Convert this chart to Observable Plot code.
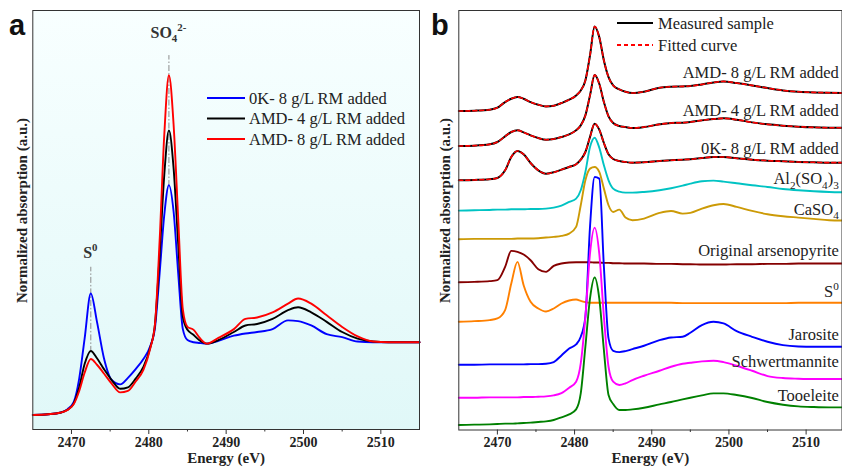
<!DOCTYPE html>
<html><head><meta charset="utf-8">
<script src="https://cdn.jsdelivr.net/npm/d3@7"></script>
<script src="https://cdn.jsdelivr.net/npm/@observablehq/plot@0.6"></script>
<style>
body{margin:0;background:#fff;}
#wrap{position:relative;width:842px;height:472px;overflow:hidden;}
#wrap svg text{font-family:'Liberation Serif','Times New Roman',serif;}
#wrap svg text.panel-letter{font-family:'Liberation Sans',Arial,sans-serif;}
#pa{position:absolute;left:0;top:0;width:430px;height:472px;}
#pb{position:absolute;left:420px;top:0;width:422px;height:472px;}
</style></head>
<body><div id="wrap"><div id="pa"></div><div id="pb"></div></div>
<script>
const SERIF = "'Liberation Serif','Times New Roman',serif";
const SANS = "'Liberation Sans',Arial,sans-serif";

// ---------- Panel a data ----------
const energyA = [2465, 2467, 2468.5, 2469.5, 2470.3, 2471, 2471.7, 2472.5, 2473.3, 2474.2, 2475.2, 2476.3, 2477.3, 2478.3, 2479.3, 2480.2, 2480.8, 2481.4, 2482, 2482.6, 2483.2, 2483.8, 2484.4, 2485, 2485.8, 2486.5, 2487.5, 2489, 2491, 2492.5, 2494, 2496, 2498, 2499.3, 2501, 2503, 2505, 2507, 2509, 2511, 2515];
const ok8A  = [0, 0.01, 0.03, 0.08, 0.18, 0.50, 1.05, 1.67, 1.28, 0.78, 0.48, 0.42, 0.51, 0.63, 0.77, 0.95, 1.20, 1.95, 2.75, 3.16, 2.80, 1.95, 1.18, 1.03, 1.00, 0.99, 0.98, 1.02, 1.09, 1.12, 1.14, 1.18, 1.30, 1.29, 1.23, 1.11, 1.07, 1.01, 1.00, 1.00, 1.00];
const amd4A = [0, 0.01, 0.03, 0.07, 0.16, 0.38, 0.70, 0.88, 0.78, 0.63, 0.48, 0.36, 0.38, 0.50, 0.66, 0.93, 1.25, 2.20, 3.30, 3.91, 3.40, 2.35, 1.35, 1.17, 1.10, 1.03, 0.98, 1.03, 1.14, 1.23, 1.25, 1.32, 1.44, 1.48, 1.41, 1.28, 1.14, 1.05, 1.01, 1.00, 1.00];
const amd8A = [0, 0.01, 0.03, 0.07, 0.15, 0.33, 0.58, 0.77, 0.69, 0.57, 0.43, 0.31, 0.33, 0.46, 0.62, 0.92, 1.25, 2.40, 3.85, 4.67, 4.00, 2.70, 1.45, 1.21, 1.17, 1.07, 0.98, 1.06, 1.18, 1.32, 1.34, 1.41, 1.53, 1.60, 1.53, 1.37, 1.21, 1.08, 1.01, 1.00, 1.00];
const seriesA = ["0K- 8 g/L RM added", "AMD- 4 g/L RM added", "AMD- 8 g/L RM added"];
const colorsA = ["#0000ff", "#000000", "#ff0000"];
const valuesA = [ok8A, amd4A, amd8A];
const peakE = [2472.5, 2482.6];
const guideLo = [0.86, 3.14];
const guideHi = [2.03, 4.94];
const peakLabelV = [2.15, 5.18];
const peakLabels = [[["S", ""], ["0", "sup"]], [["SO", ""], ["4", "sub"], ["2-", "sup"]]];

// ---------- Panel b data ----------
const energyB = [2465, 2467, 2469, 2470, 2471, 2471.8, 2472.6, 2473.4, 2474.3, 2475.3, 2476.3, 2477.3, 2478.3, 2479.3, 2480.2, 2480.8, 2481.4, 2482, 2482.6, 2483.2, 2483.8, 2484.4, 2485, 2485.8, 2486.6, 2487.5, 2489, 2491, 2492.5, 2494, 2495, 2496.5, 2498, 2499.3, 2501, 2503, 2505, 2507, 2509, 2511, 2513, 2515];
const amd8B = [9.58, 9.59, 9.62, 9.68, 9.85, 9.95, 10.00, 9.95, 9.85, 9.77, 9.72, 9.74, 9.82, 9.92, 10.05, 10.20, 10.50, 11.25, 12.12, 11.80, 11.10, 10.60, 10.35, 10.23, 10.16, 10.12, 10.16, 10.28, 10.31, 10.32, 10.33, 10.38, 10.44, 10.47, 10.42, 10.35, 10.27, 10.20, 10.16, 10.14, 10.13, 10.12];
const amd4B = [8.53, 8.54, 8.58, 8.65, 8.82, 8.95, 9.00, 8.94, 8.85, 8.77, 8.72, 8.74, 8.80, 8.88, 9.00, 9.15, 9.45, 10.05, 10.66, 10.40, 9.85, 9.42, 9.22, 9.13, 9.10, 9.07, 9.10, 9.18, 9.22, 9.23, 9.25, 9.30, 9.34, 9.36, 9.32, 9.24, 9.18, 9.14, 9.11, 9.09, 9.08, 9.08];
const ok8B  = [7.50, 7.51, 7.53, 7.57, 7.80, 8.20, 8.38, 8.28, 8.02, 7.80, 7.70, 7.74, 7.82, 7.90, 7.98, 8.12, 8.35, 8.80, 9.20, 9.02, 8.62, 8.28, 8.14, 8.08, 8.05, 8.03, 8.04, 8.08, 8.10, 8.12, 8.13, 8.17, 8.20, 8.20, 8.16, 8.12, 8.09, 8.07, 8.05, 8.04, 8.03, 8.03];
const al2B  = [6.59, 6.60, 6.61, 6.62, 6.62, 6.63, 6.63, 6.63, 6.64, 6.64, 6.65, 6.68, 6.74, 6.85, 6.95, 7.20, 7.75, 8.50, 8.78, 8.48, 7.95, 7.50, 7.25, 7.16, 7.13, 7.13, 7.15, 7.20, 7.26, 7.34, 7.40, 7.47, 7.49, 7.46, 7.41, 7.35, 7.30, 7.24, 7.20, 7.17, 7.15, 7.14];
const caso4B = [5.73, 5.74, 5.74, 5.74, 5.74, 5.74, 5.75, 5.75, 5.75, 5.76, 5.78, 5.80, 5.83, 5.90, 6.10, 6.75, 7.50, 7.85, 7.90, 7.75, 7.25, 6.75, 6.55, 6.62, 6.38, 6.30, 6.35, 6.52, 6.58, 6.50, 6.52, 6.65, 6.75, 6.79, 6.70, 6.58, 6.48, 6.42, 6.38, 6.34, 6.30, 6.29];
const arsenoB = [4.44, 4.45, 4.47, 4.50, 4.90, 5.38, 5.35, 5.27, 5.10, 4.83, 4.75, 4.93, 5.00, 5.03, 5.04, 5.04, 5.04, 5.04, 5.03, 5.03, 5.02, 5.02, 5.01, 5.01, 5.00, 5.00, 5.00, 4.99, 4.99, 4.98, 4.98, 4.97, 4.97, 4.97, 4.98, 4.98, 4.99, 4.99, 5.00, 5.00, 5.00, 5.00];
const s0B = [3.25, 3.27, 3.30, 3.35, 3.60, 4.40, 5.05, 4.35, 3.85, 3.65, 3.56, 3.65, 3.80, 3.89, 3.92, 3.88, 3.84, 3.82, 3.82, 3.82, 3.82, 3.82, 3.82, 3.82, 3.82, 3.82, 3.82, 3.82, 3.82, 3.81, 3.81, 3.81, 3.81, 3.81, 3.81, 3.81, 3.81, 3.81, 3.82, 3.82, 3.82, 3.82];
const jaroB = [1.96, 1.96, 1.97, 1.97, 1.97, 1.97, 1.97, 1.97, 1.98, 1.98, 1.99, 2.04, 2.24, 2.45, 2.57, 2.80, 3.40, 6.10, 7.60, 7.55, 4.90, 2.75, 2.38, 2.34, 2.37, 2.43, 2.53, 2.70, 2.78, 2.80, 2.92, 3.15, 3.25, 3.20, 2.97, 2.80, 2.65, 2.55, 2.51, 2.50, 2.50, 2.50];
const schwB = [0.97, 0.97, 0.98, 0.98, 0.98, 0.98, 0.98, 0.99, 0.99, 1.00, 1.01, 1.04, 1.11, 1.27, 1.45, 2.00, 3.40, 5.30, 6.08, 5.30, 3.40, 1.90, 1.45, 1.35, 1.40, 1.50, 1.63, 1.78, 1.90, 1.99, 2.02, 2.06, 2.08, 2.04, 1.93, 1.78, 1.62, 1.56, 1.54, 1.53, 1.53, 1.53];
const tooB = [0.15, 0.16, 0.17, 0.18, 0.19, 0.19, 0.20, 0.21, 0.22, 0.24, 0.26, 0.30, 0.38, 0.47, 0.62, 1.10, 2.50, 3.95, 4.58, 3.95, 2.40, 1.05, 0.78, 0.60, 0.60, 0.62, 0.67, 0.77, 0.84, 0.92, 0.97, 1.04, 1.10, 1.10, 1.05, 0.96, 0.84, 0.76, 0.71, 0.69, 0.68, 0.68];

const measNames = ["AMD- 8 g/L RM added", "AMD- 4 g/L RM added", "0K- 8 g/L RM added"];
const measValues = [amd8B, amd4B, ok8B];
const refNames = ["Al2(SO4)3", "CaSO4", "Original arsenopyrite", "S0", "Jarosite", "Schwertmannite", "Tooeleite"];
const refValues = [al2B, caso4B, arsenoB, s0B, jaroB, schwB, tooB];
const refColors = ["#00c3c3", "#cc9a06", "#850000", "#ff8000", "#0000ff", "#ff00ff", "#008000"];

// labels on the right of panel b (baseline values)
const labelVB = [10.55, 9.43, 8.28, 7.37, 6.45, 5.20, 3.97, 2.70, 1.87, 0.85];
const labelPartsB = [
  [["AMD- 8 g/L RM added", ""]],
  [["AMD- 4 g/L RM added", ""]],
  [["0K- 8 g/L RM added", ""]],
  [["Al", ""], ["2", "sub"], ["(SO", ""], ["4", "sub"], [")", ""], ["3", "sub"]],
  [["CaSO", ""], ["4", "sub"]],
  [["Original arsenopyrite", ""]],
  [["S", ""], ["0", "sup"]],
  [["Jarosite", ""]],
  [["Schwertmannite", ""]],
  [["Tooeleite", ""]]
];

const majorTicks = [2470, 2480, 2490, 2500, 2510];
const minorTicks = [2475, 2485, 2495, 2505];

const tableA = seriesA.flatMap((s, i) => energyA.map((e, j) => ({series: s, energy: e, value: valuesA[i][j]})));
const measTable = measNames.flatMap((s, i) => energyB.map((e, j) => ({series: s, energy: e, value: measValues[i][j]})));
const refTable = refNames.flatMap((s, i) => energyB.map((e, j) => ({series: s, energy: e, value: refValues[i][j]})));

function axes() {
  return [
    Plot.axisX(majorTicks, {anchor: "bottom", tickSize: 5, tickPadding: 2.5, tickFormat: d => String(d), fontSize: 14, fontWeight: "bold", fontFamily: SERIF, label: null, stroke: "#333", fill: "#222"}),
    Plot.axisX(minorTicks, {anchor: "bottom", tickSize: 2.5, tickFormat: () => "", label: null, stroke: "#333"}),
    Plot.text(["Energy (eV)"], {frameAnchor: "bottom", dy: 33, fontSize: 15, fontWeight: "bold", fontFamily: SERIF, fill: "#222"})
  ];
}

function rich(svg, x, y, parts, o) {
  const t = svg.append("text").attr("x", x).attr("y", y)
    .attr("text-anchor", o.anchor || "start")
    .style("text-anchor", o.anchor || "start")
    .style("font-family", SERIF)
    .attr("font-size", o.size)
    .attr("font-weight", o.weight || "normal")
    .attr("fill", o.fill || "#222");
  let cur = 0;
  for (const [s, k] of parts) {
    const off = k === "sup" ? -0.42 * o.size : k === "sub" ? 0.28 * o.size : 0;
    const ts = t.append("tspan").text(s).attr("dy", off - cur);
    if (k) ts.attr("font-size", o.size * 0.68);
    cur = off;
  }
  return t;
}

// ---------- Panel a ----------
const plotA = Plot.plot({
  width: 430, height: 472,
  marginLeft: 32.3, marginRight: 11, marginTop: 10, marginBottom: 43,
  style: {fontFamily: SERIF, background: "transparent", maxWidth: "none", color: "#222"},
  x: {domain: [2465, 2515]},
  y: {domain: [-0.2, 5.56], axis: null},
  color: {domain: seriesA, range: colorsA},
  marks: [
    Plot.frame({fill: "url(#bgA)", stroke: null}),
    Plot.ruleX(peakE, {x: d => d, y1: guideLo, y2: guideHi, stroke: "#8c8c8c", strokeWidth: 1, strokeDasharray: "6,2,1.5,2"}),
    Plot.line(tableA, {x: "energy", y: "value", z: "series", stroke: "series", curve: "monotone-x", strokeWidth: 1.9}),
    Plot.frame({stroke: "#333", strokeWidth: 1}),
    ...axes(),
    Plot.text(["Normalized absorption (a.u.)"], {frameAnchor: "left", dx: -11, dy: -9.5, rotate: -90, textAnchor: "middle", lineAnchor: "middle", fontSize: 15, fontWeight: "bold", fontFamily: SERIF, fill: "#222"})
  ]
});
document.getElementById("pa").append(plotA);
{
  const svg = d3.select(plotA);
  const g = svg.insert("defs", ":first-child").append("linearGradient").attr("id", "bgA")
    .attr("x1", 0).attr("y1", 0).attr("x2", 0).attr("y2", 1);
  g.append("stop").attr("offset", "0%").attr("stop-color", "#f8ffff");
  g.append("stop").attr("offset", "100%").attr("stop-color", "#e0f8f8");
  const xs = plotA.scale("x"), ys = plotA.scale("y");
  peakE.forEach((e, i) => rich(svg, xs.apply(e), ys.apply(peakLabelV[i]), peakLabels[i], {anchor: "middle", size: 16, weight: "bold", fill: "#333"}));
  // legend
  const lg = svg.append("g");
  seriesA.forEach((s, i) => {
    const y = 98 + i * 20.5;
    lg.append("line").attr("x1", 207).attr("x2", 245).attr("y1", y).attr("y2", y).attr("stroke", colorsA[i]).attr("stroke-width", 2.2);
    rich(lg, 249, y + 5.5, [[s, ""]], {anchor: "start", size: 16.5, fill: "#222"});
  });
  svg.append("text").attr("class", "panel-letter").attr("x", 9).attr("y", 35)
    .style("text-anchor", "start").style("font-family", SANS)
    .attr("font-weight", "bold").attr("font-size", 29).attr("fill", "#111").text("a");
}

// ---------- Panel b ----------
const plotB = Plot.plot({
  width: 422, height: 472,
  marginLeft: 38.3, marginRight: 0.5, marginTop: 10, marginBottom: 42.5,
  style: {fontFamily: SERIF, background: "transparent", maxWidth: "none", color: "#222", overflow: "visible"},
  x: {domain: [2465, 2514.65]},
  y: {domain: [0, 12.6], axis: null},
  color: {domain: refNames, range: refColors},
  marks: [
    Plot.line(refTable, {x: "energy", y: "value", z: "series", stroke: "series", curve: "monotone-x", strokeWidth: 1.9}),
    Plot.line(measTable, {x: "energy", y: "value", z: "series", stroke: "#000", curve: "monotone-x", strokeWidth: 2}),
    Plot.line(measTable, {x: "energy", y: "value", z: "series", stroke: "#ff0000", curve: "monotone-x", strokeWidth: 1.6, strokeDasharray: "4,3"}),
    Plot.frame({stroke: "#333", strokeWidth: 1}),
    ...axes(),
    Plot.text(["Normalized absorption (a.u.)"], {frameAnchor: "left", dx: -13.3, dy: -9.7, rotate: -90, textAnchor: "middle", lineAnchor: "middle", fontSize: 15, fontWeight: "bold", fontFamily: SERIF, fill: "#222"})
  ]
});
document.getElementById("pb").append(plotB);
{
  const svg = d3.select(plotB);
  const xs = plotB.scale("x"), ys = plotB.scale("y");
  labelPartsB.forEach((p, i) => rich(svg, xs.apply(2514.3), ys.apply(labelVB[i]), p, {anchor: "end", size: 16.5, fill: "#222"}));
  const lg = svg.append("g");
  lg.append("line").attr("x1", 197).attr("x2", 233).attr("y1", 23).attr("y2", 23).attr("stroke", "#000").attr("stroke-width", 2);
  lg.append("line").attr("x1", 197).attr("x2", 233).attr("y1", 45).attr("y2", 45).attr("stroke", "#ff0000").attr("stroke-width", 2).attr("stroke-dasharray", "4,3");
  rich(lg, 238, 28.5, [["Measured sample", ""]], {anchor: "start", size: 16.5, fill: "#222"});
  rich(lg, 238, 50.5, [["Fitted curve", ""]], {anchor: "start", size: 16.5, fill: "#222"});
  svg.append("text").attr("class", "panel-letter").attr("x", 11).attr("y", 35)
    .style("text-anchor", "start").style("font-family", SANS)
    .attr("font-weight", "bold").attr("font-size", 29).attr("fill", "#111").text("b");
}
</script>
</body></html>
